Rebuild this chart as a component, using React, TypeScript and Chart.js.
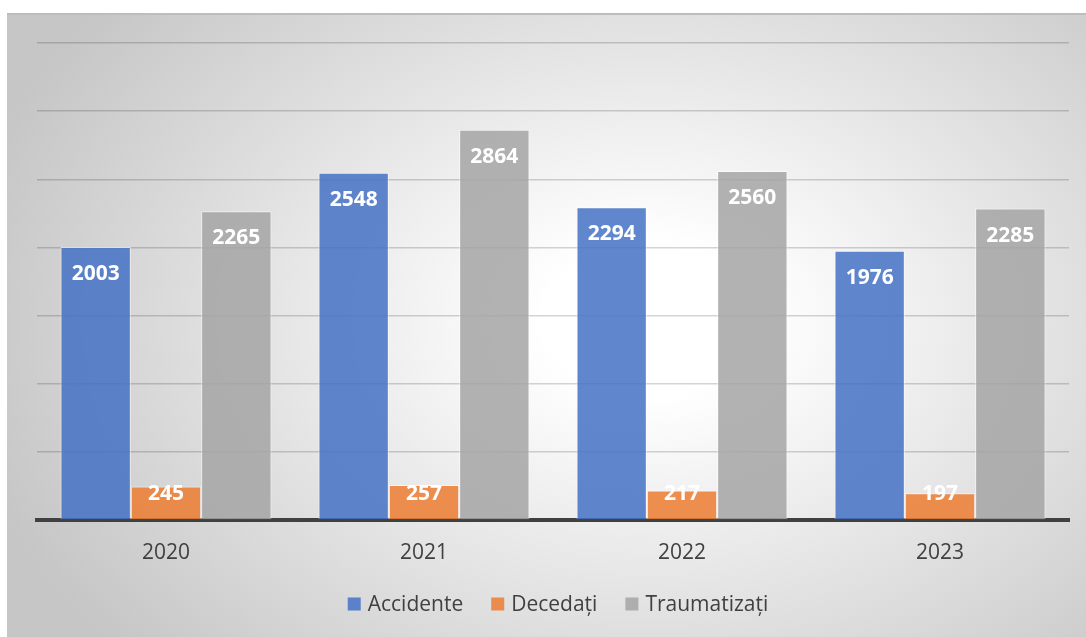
import React, { useEffect, useRef } from "react";
import { Chart, registerables } from "chart.js";

Chart.register(...registerables);

const years = ["2020", "2021", "2022", "2023"];
const accidente = [2003, 2548, 2294, 1976];
const decedati = [245, 257, 217, 197];
const traumatizati = [2265, 2864, 2560, 2285];
const seriesNames = ["Accidente", "Decedați", "Traumatizați"];
const yTicks = [0, 500, 1000, 1500, 2000, 2500, 3000, 3500];

const FONT = "'Open Sans', 'Noto Sans', sans-serif";
const TEXT = "#404040";
const fills = ["rgba(68,114,196,0.85)", "rgba(237,125,49,0.85)", "rgba(165,165,165,0.85)"];

// Soft radial backdrop with a thin top rule
const backdrop = {
  id: "backdrop",
  beforeDraw(chart: any) {
    const { ctx, width, height } = chart;
    ctx.save();
    ctx.fillStyle = "#ffffff";
    ctx.fillRect(0, 0, width, height);
    ctx.beginPath();
    ctx.rect(7, 13, width - 7, height - 13);
    ctx.clip();
    const cx = 650, cy = 320, rx = 700, ry = 500;
    ctx.translate(cx, cy);
    ctx.scale(1, ry / rx);
    const g = ctx.createRadialGradient(0, 0, 0, 0, 0, rx);
    g.addColorStop(0, "#ffffff");
    g.addColorStop(0.15, "#ffffff");
    g.addColorStop(1, "#c6c6c6");
    ctx.fillStyle = g;
    ctx.fillRect(-cx, -cy * (rx / ry), width * 2, height * 2 * (rx / ry));
    ctx.restore();
    ctx.save();
    ctx.strokeStyle = "#bdbdbd";
    ctx.lineWidth = 2;
    ctx.beginPath();
    ctx.moveTo(7, 14);
    ctx.lineTo(width, 14);
    ctx.stroke();
    ctx.restore();
  },
};

// White value labels near the top inside each bar
const valueLabels = {
  id: "valueLabels",
  afterDatasetsDraw(chart: any) {
    const { ctx } = chart;
    ctx.save();
    ctx.font = `bold 21px ${FONT}`;
    ctx.fillStyle = "#ffffff";
    ctx.textAlign = "center";
    ctx.textBaseline = "middle";
    chart.data.datasets.forEach((ds: any, di: number) => {
      const meta = chart.getDatasetMeta(di);
      meta.data.forEach((bar: any, i: number) => {
        const y = Math.min(bar.y + 27, bar.base - 25);
        ctx.fillText(String(ds.data[i]), bar.x, y);
      });
    });
    ctx.restore();
  },
};

// Centered legend row under the axis labels
const bottomLegend = {
  id: "bottomLegend",
  afterDraw(chart: any) {
    const { ctx, chartArea } = chart;
    const box = 13, gapBox = 7, gapItem = 28, cy = 604;
    ctx.save();
    ctx.font = `21px ${FONT}`;
    ctx.textBaseline = "middle";
    const items = chart.data.datasets.map((ds: any) => ({
      label: ds.label,
      color: ds.backgroundColor,
      w: ctx.measureText(ds.label).width,
    }));
    const total = items.reduce((s: number, it: any) => s + box + gapBox + it.w, 0) + gapItem * (items.length - 1);
    let x = (chartArea.left + chartArea.right) / 2 + 5 - total / 2;
    items.forEach((it: any) => {
      ctx.fillStyle = it.color;
      ctx.fillRect(x, cy - box / 2, box, box);
      x += box + gapBox;
      ctx.fillStyle = TEXT;
      ctx.textAlign = "left";
      ctx.fillText(it.label, x, cy + 1);
      x += it.w + gapItem;
    });
    ctx.restore();
  },
};

export default function App() {
  const ref = useRef<HTMLCanvasElement | null>(null);

  useEffect(() => {
    if (!ref.current) return;
    const series = [accidente, decedati, traumatizati];
    const chart = new Chart(ref.current, {
      type: "bar",
      data: {
        labels: years,
        datasets: series.map((d, i) => ({
          label: seriesNames[i],
          data: d,
          backgroundColor: fills[i],
          borderColor: "rgba(255,255,255,0.6)",
          borderWidth: 1,
          barPercentage: 1,
          categoryPercentage: 0.818,
        })),
      },
      options: {
        responsive: false,
        animation: false,
        layout: { padding: { left: 37, right: 17, top: 43, bottom: 0 } },
        plugins: { legend: { display: false }, tooltip: { enabled: false } },
        scales: {
          x: {
            grid: { display: false, drawTicks: false },
            border: { display: true, color: "#404040", width: 4 },
            ticks: { color: TEXT, font: { family: FONT, size: 21 }, padding: 20 },
            afterFit: (s: any) => {
              s.height = 117;
            },
          },
          y: {
            min: 0,
            max: yTicks[yTicks.length - 1],
            afterBuildTicks: (s: any) => {
              s.ticks = yTicks.map((v) => ({ value: v }));
            },
            ticks: { display: false },
            grid: { color: "rgba(0,0,0,0.17)", lineWidth: 1.5, drawTicks: false },
            border: { display: false },
            afterFit: (s: any) => {
              s.width = 0;
            },
          },
        },
      },
      plugins: [backdrop, valueLabels, bottomLegend],
    });
    return () => chart.destroy();
  }, []);

  return (
    <div style={{ position: "absolute", left: 0, top: 0, width: 1086, height: 637 }}>
      <canvas ref={ref} width={1086} height={637} />
    </div>
  );
}
